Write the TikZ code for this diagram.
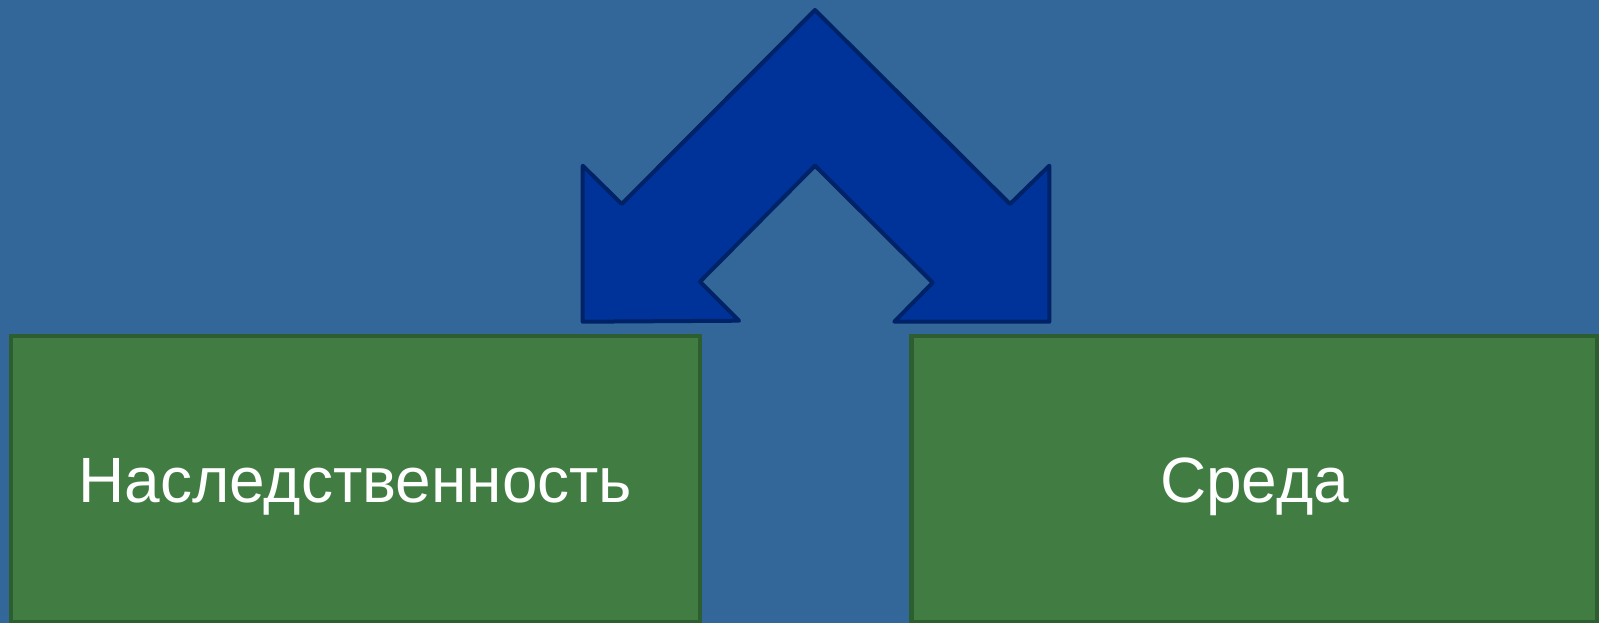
\documentclass[tikz,border=0pt]{standalone}
\usepackage{fontspec}
\setmainfont{Liberation Sans}
\definecolor{bgblue}{RGB}{51,102,153}
\definecolor{boxfill}{RGB}{65,125,67}
\definecolor{boxline}{RGB}{45,94,48}
\definecolor{arrowfill}{RGB}{0,51,153}
\definecolor{arrowline}{RGB}{0,34,102}
\tikzset{
  greenbox/.style={draw=boxline, fill=boxfill, line width=4.5pt, rectangle, inner sep=0pt,
    text=white, font=\fontsize{64}{70}\selectfont, text height=46pt, text depth=0pt},
  bentarrow/.style={draw=arrowline, fill=arrowfill, line width=4pt, line join=round}
}
\begin{document}
\begin{tikzpicture}[x=1pt,y=-1pt]
\useasboundingbox (0,0) rectangle (1599,623);
\fill[bgblue] (0,0) rectangle (1599,623);
\node[greenbox, minimum width=689pt, minimum height=286pt] (left) at (355.5,479) {Наследственность};
\node[greenbox, minimum width=685.6pt, minimum height=286pt] (right) at (1254.5,479) {Среда};
\draw[bentarrow] (815,10) -- (1010,204) -- (1049.3,165.7) -- (1049.3,321.7) -- (894.3,321.7)
  -- (932.7,282.7) -- (815,165.7) -- (700,281.7) -- (739,320.7) -- (582.7,321.7)
  -- (582.7,165.7) -- (621.7,204) -- cycle;
\end{tikzpicture}
\end{document}
